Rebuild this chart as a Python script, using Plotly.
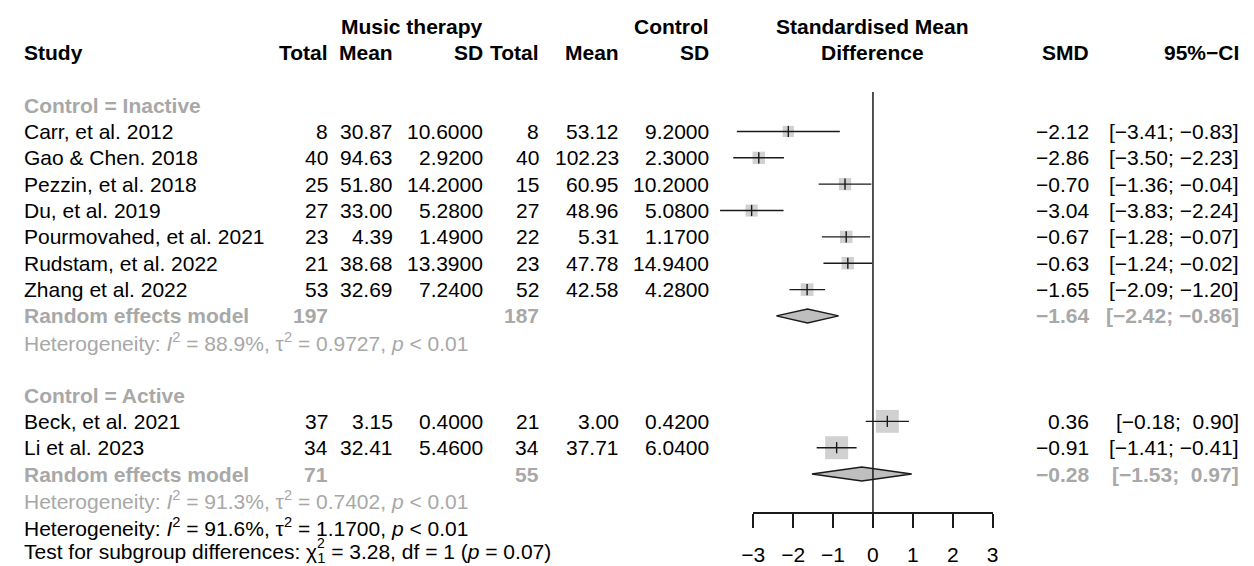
import plotly.graph_objects as go
import math

# ---------------- data ----------------
studies = ["Carr, et al. 2012", "Gao & Chen. 2018", "Pezzin, et al. 2018", "Du, et al. 2019",
           "Pourmovahed, et al. 2021", "Rudstam, et al. 2022", "Zhang et al. 2022",
           "Beck, et al. 2021", "Li et al. 2023"]
study_group = [0, 0, 0, 0, 0, 0, 0, 1, 1]
mt_total = [8, 40, 25, 27, 23, 21, 53, 37, 34]
mt_mean = [30.87, 94.63, 51.80, 33.00, 4.39, 38.68, 32.69, 3.15, 32.41]
mt_sd = [10.6, 2.92, 14.2, 5.28, 1.49, 13.39, 7.24, 0.40, 5.46]
ct_total = [8, 40, 15, 27, 22, 23, 52, 21, 34]
ct_mean = [53.12, 102.23, 60.95, 48.96, 5.31, 47.78, 42.58, 3.00, 37.71]
ct_sd = [9.2, 2.3, 10.2, 5.08, 1.17, 14.94, 4.28, 0.42, 6.04]
smd = [-2.12, -2.86, -0.70, -3.04, -0.67, -0.63, -1.65, 0.36, -0.91]
ci_lo = [-3.41, -3.50, -1.36, -3.83, -1.28, -1.24, -2.09, -0.18, -1.41]
ci_hi = [-0.83, -2.23, -0.04, -2.24, -0.07, -0.02, -1.20, 0.90, -0.41]
weight_pct = [11.9, 14.6, 14.5, 14.0, 14.8, 14.7, 15.4, 49.8, 50.2]  # estimated within-subgroup weights

groups = ["Control = Inactive", "Control = Active"]
grp_mt_total = [197, 71]
grp_ct_total = [187, 55]
grp_smd = [-1.64, -0.28]
grp_lo = [-2.42, -1.53]
grp_hi = [-0.86, 0.97]
grp_i2 = ["88.9%", "91.3%"]
grp_tau2 = ["0.9727", "0.7402"]
grp_p = ["< 0.01", "< 0.01"]

overall_i2 = "91.6%"
overall_tau2 = "1.1700"
overall_p = "< 0.01"
test_chi2 = "3.28"
test_df = "1"
test_p = "0.07"

axis_ticks = [-3, -2, -1, 0, 1, 2, 3]

# ---------------- layout constants ----------------
W, H = 1254, 566
FONT = "Liberation Sans, Arial, Helvetica, sans-serif"
FS = 21
GREY_TXT = "#A8A8A8"
GREY_FILL = "#BEBEBE"
LINE_C = "#1a1a1a"

X_M3, X_P3 = 752, 995               # pixel positions of -3 and 3
UNIT = (X_P3 - X_M3) / 6.0
X0 = (X_M3 + X_P3) / 2.0
Y0, ROW = 26.1, 26.4                # row r centre in px = Y0 + ROW*r
AXIS_Y = 514

# columns (pixels)
C_STUDY = 12
C_MT_TOT, C_MT_MEAN, C_MT_SD = 321, 387, 478
C_CT_TOT, C_CT_MEAN, C_CT_SD = 535, 616, 707
C_SMD, C_CI = 1093, 1245
C_CHI_SUP = 309

# rows
grp_label_row = [3, 14]
grp_study_rows = [[4, 5, 6, 7, 8, 9, 10], [15, 16]]
grp_re_row = [11, 17]
grp_het_row = [12, 18]
overall_het_row = 19
test_row = 20

rows = []
for g in range(2):
    rows += grp_study_rows[g]


def fmt(v, d=2):
    s = f"{v:.{d}f}"
    return s.replace("-", "\u2212")


def ci_str(lo, hi):
    a = fmt(lo) if lo < 0 else "\u00a0" + fmt(lo)
    b = fmt(hi) if hi < 0 else "\u00a0" + fmt(hi)
    return f"[{a};\u00a0{b}]"


ann = []


def txt(xpx, r, s, anchor="right", bold=False, color="black", size=FS, yshift=0):
    ann.append(dict(x=xpx / W, xref="paper", y=r, yref="y",
                    text=(f"<b>{s}</b>" if bold else s),
                    xanchor=anchor, yanchor="middle", showarrow=False, yshift=yshift,
                    borderpad=0, borderwidth=0,
                    font=dict(size=size, color=color, family=FONT)))


# headers
txt(C_MT_SD, 0, "Music therapy", bold=True)
txt(C_CT_SD, 0, "Control", bold=True)
txt(X0, 0, "Standardised Mean", anchor="center", bold=True)
txt(X0, 1, "Difference", anchor="center", bold=True)
txt(C_STUDY, 1, "Study", anchor="left", bold=True)
for xp, s in [(C_MT_TOT, "Total"), (C_MT_MEAN, "Mean"), (C_MT_SD, "SD"),
              (C_CT_TOT, "Total"), (C_CT_MEAN, "Mean"), (C_CT_SD, "SD"),
              (C_SMD, "SMD"), (C_CI, "95%\u2212CI")]:
    txt(xp, 1, s, bold=True)

# study rows
for i, name in enumerate(studies):
    r = rows[i]
    txt(C_STUDY, r, name, anchor="left")
    txt(C_MT_TOT, r, str(mt_total[i]))
    txt(C_MT_MEAN, r, fmt(mt_mean[i]))
    txt(C_MT_SD, r, fmt(mt_sd[i], 4))
    txt(C_CT_TOT, r, str(ct_total[i]))
    txt(C_CT_MEAN, r, fmt(ct_mean[i]))
    txt(C_CT_SD, r, fmt(ct_sd[i], 4))
    txt(C_SMD, r, fmt(smd[i]))
    txt(C_CI, r, ci_str(ci_lo[i], ci_hi[i]))

# subgroup rows
for g in range(2):
    txt(C_STUDY, grp_label_row[g], groups[g], anchor="left", bold=True, color=GREY_TXT)
    r = grp_re_row[g]
    txt(C_STUDY, r, "Random effects model", anchor="left", bold=True, color=GREY_TXT)
    txt(C_MT_TOT, r, str(grp_mt_total[g]), bold=True, color=GREY_TXT)
    txt(C_CT_TOT, r, str(grp_ct_total[g]), bold=True, color=GREY_TXT)
    txt(C_SMD, r, fmt(grp_smd[g]), bold=True, color=GREY_TXT)
    txt(C_CI, r, ci_str(grp_lo[g], grp_hi[g]), bold=True, color=GREY_TXT)
    txt(C_STUDY, grp_het_row[g],
        f"Heterogeneity: <i>I</i><sup>2</sup> = {grp_i2[g]}, \u03c4<sup>2</sup> = {grp_tau2[g]}, <i>p</i> {grp_p[g]}",
        anchor="left", color=GREY_TXT)

txt(C_STUDY, overall_het_row,
    f"Heterogeneity: <i>I</i><sup>2</sup> = {overall_i2}, \u03c4<sup>2</sup> = {overall_tau2}, <i>p</i> {overall_p}",
    anchor="left")
txt(C_STUDY, test_row,
    f"Test for subgroup differences: \u03c7<sub>{test_df}</sub> = {test_chi2}, df = {test_df} (<i>p</i> = {test_p})",
    anchor="left")
txt(C_CHI_SUP, test_row, "2", anchor="left", size=14, yshift=10)

# ---------------- traces ----------------
fig = go.Figure()

# squares
fig.add_trace(go.Scatter(
    x=smd, y=rows, mode="markers",
    marker=dict(symbol="square", color=GREY_FILL, size=[3.24 * math.sqrt(w) for w in weight_pct],
                line=dict(width=0)),
    hoverinfo="skip"))

# CI lines
cx, cy = [], []
for i in range(len(studies)):
    cx += [ci_lo[i], ci_hi[i], None]
    cy += [rows[i], rows[i], None]
fig.add_trace(go.Scatter(x=cx, y=cy, mode="lines", line=dict(color=LINE_C, width=1.4),
                         hoverinfo="skip"))

# centre ticks
fig.add_trace(go.Scatter(x=smd, y=rows, mode="markers",
                         marker=dict(symbol="line-ns", size=8, line=dict(color=LINE_C, width=1.4)),
                         hoverinfo="skip"))

# diamonds
hh = 7.0 / ROW
for g in range(2):
    r = grp_re_row[g]
    fig.add_trace(go.Scatter(
        x=[grp_lo[g], grp_smd[g], grp_hi[g], grp_smd[g], grp_lo[g]],
        y=[r, r - hh, r, r + hh, r],
        mode="lines", fill="toself", fillcolor=GREY_FILL,
        line=dict(color=LINE_C, width=1.4), hoverinfo="skip"))

# reference line at 0
fig.add_trace(go.Scatter(x=[0, 0], y=[2.5, (AXIS_Y - Y0) / ROW], mode="lines",
                         line=dict(color=LINE_C, width=1.5), hoverinfo="skip"))

# axis carrier (invisible)
fig.add_trace(go.Scatter(x=[axis_ticks[0], axis_ticks[-1]], y=[0, 0], xaxis="x2", yaxis="y",
                         mode="markers", marker=dict(opacity=0), hoverinfo="skip"))

x_left = -3 - X_M3 / UNIT
x_right = 3 + (W - X_P3) / UNIT

fig.update_layout(
    width=W, height=H, margin=dict(l=0, r=0, t=0, b=0),
    paper_bgcolor="white", plot_bgcolor="rgba(0,0,0,0)", showlegend=False,
    xaxis=dict(range=[x_left, x_right], visible=False, fixedrange=True),
    yaxis=dict(range=[(H - Y0) / ROW, -Y0 / ROW], visible=False, fixedrange=True),
    xaxis2=dict(domain=[X_M3 / W, X_P3 / W], range=[-3, 3], anchor="free",
                position=1 - AXIS_Y / H, side="bottom",
                showline=True, linecolor=LINE_C, linewidth=1.5,
                ticks="outside", ticklen=14, tickwidth=1.5, tickcolor=LINE_C,
                tickvals=axis_ticks, ticklabelstandoff=9,
                tickfont=dict(size=FS, color="black", family=FONT),
                showgrid=False, zeroline=False, fixedrange=True),
    annotations=ann,
    font=dict(family=FONT, size=FS, color="black"),
)

fig.write_html("out.html", config={"displayModeBar": False},
               post_script="document.body.style.margin='0px';document.body.style.overflow='hidden';")
